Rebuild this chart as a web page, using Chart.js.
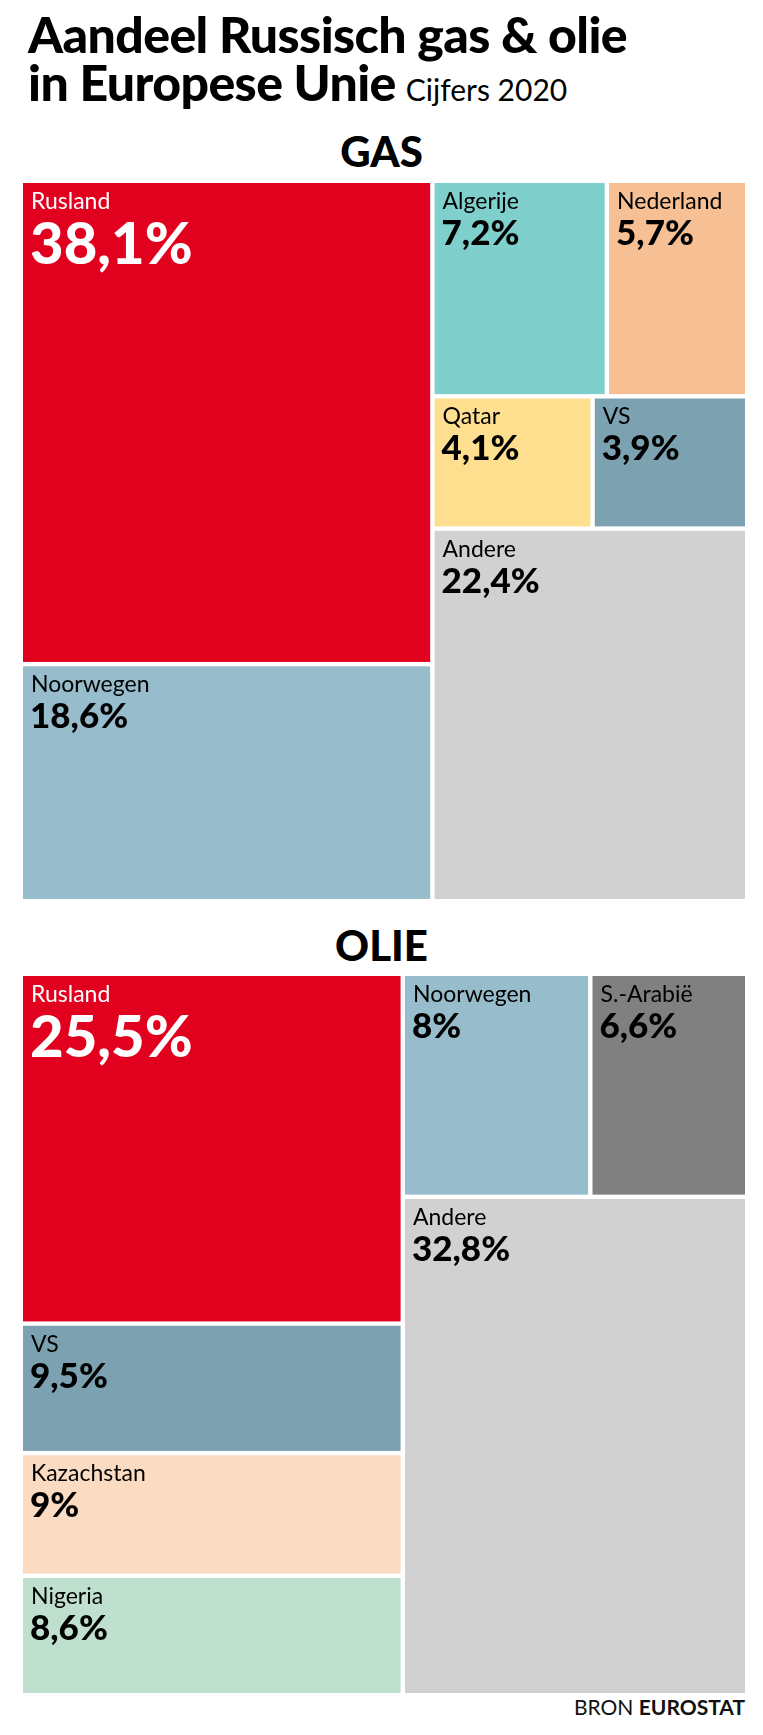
<!DOCTYPE html>
<html>
<head>
<meta charset="utf-8">
<script src="https://cdn.jsdelivr.net/npm/chart.js@4"></script>
<style>
  body { margin: 0; background: #fff; font-family: Lato, "Open Sans", sans-serif; width: 763px; height: 1735px; position: relative; overflow: hidden; }
  .abs { position: absolute; }
  h1 { margin: 0; font-size: 50px; font-weight: 900; line-height: 48px; left: 28px; top: 10px; color: #000; letter-spacing: -0.6px; }
  h1 small { font-size: 30px; font-weight: 400; letter-spacing: 0; margin-left: 10px; }
  .head { width: 763px; text-align: center; font-size: 42px; font-weight: 900; left: 0; }
  .box { left: 0; width: 763px; }
  .src { right: 18px; top: 1694px; font-size: 21px; color: #111; }
</style>
</head>
<body>
<h1 class="abs">Aandeel Russisch gas &amp; olie<br>in Europese Unie<small>Cijfers 2020</small></h1>
<div class="abs head" style="top:126px">GAS</div>
<div class="abs box" style="top:183px;height:716px"><canvas id="gasChart"></canvas></div>
<div class="abs head" style="top:920px">OLIE</div>
<div class="abs box" style="top:976px;height:717px"><canvas id="oilChart"></canvas></div>
<div class="abs src">BRON <b>EUROSTAT</b></div>
<script>
// Data (share in %, 2020)
const gasLabels = ['Rusland', 'Algerije', 'Nederland', 'Qatar', 'VS', 'Andere', 'Noorwegen'];
const gasValues = [38.1, 7.2, 5.7, 4.1, 3.9, 22.4, 18.6];
const gasColors = ['#e2001f', '#7fcfcc', '#f6bf94', '#fddf8f', '#7ca1b1', '#d1d1d1', '#97bccb'];

const oilLabels = ['Rusland', 'Noorwegen', 'S.-Arabië', 'Andere', 'VS', 'Kazachstan', 'Nigeria'];
const oilValues = [25.5, 8, 6.6, 32.8, 9.5, 9, 8.6];
const oilColors = ['#e2001f', '#97bccb', '#808080', '#d1d1d1', '#7ca1b1', '#fbdbc2', '#bfe0ce'];

// Nesting of the treemap (indices into the arrays above)
const gasTree = { dir: 'h', children: [
    { dir: 'v', children: [0, 6] },
    { dir: 'v', children: [{ dir: 'h', children: [1, 2] }, { dir: 'h', children: [3, 4] }, 5] }
]};
const oilTree = { dir: 'h', children: [
    { dir: 'v', children: [0, 4, 5, 6] },
    { dir: 'v', children: [{ dir: 'h', children: [1, 2] }, 3] }
]};

function nodeSum(node, values) {
    if (typeof node === 'number') return values[node];
    return node.children.reduce((s, c) => s + nodeSum(c, values), 0);
}

// slice-and-dice layout in value space (0..100 on both axes)
function layout(node, values, x0, y0, x1, y1, out) {
    if (typeof node === 'number') {
        out.push({ i: node, x0, y0, x1, y1 });
        return out;
    }
    const total = nodeSum(node, values);
    let pos = node.dir === 'h' ? x0 : y0;
    node.children.forEach(c => {
        const f = nodeSum(c, values) / total;
        if (node.dir === 'h') {
            const w = (x1 - x0) * f;
            layout(c, values, pos, y0, pos + w, y1, out);
            pos += w;
        } else {
            const h = (y1 - y0) * f;
            layout(c, values, x0, pos, x1, pos + h, out);
            pos += h;
        }
    });
    return out;
}

const fmt = v => String(v).replace('.', ',') + '%';

function treemapPlugin(labels, values, colors, tree) {
    return {
        id: 'treemap',
        afterDatasetsDraw(chart) {
            const { ctx, scales: { x, y } } = chart;
            const cells = layout(tree, values, 0, 0, 100, 100, []);
            const gap = 2.2;
            cells.forEach(c => {
                const px0 = x.getPixelForValue(c.x0) + (c.x0 > 0 ? gap : 0);
                const px1 = x.getPixelForValue(c.x1) - (c.x1 < 100 ? gap : 0);
                const py0 = y.getPixelForValue(c.y0) + (c.y0 > 0 ? gap : 0);
                const py1 = y.getPixelForValue(c.y1) - (c.y1 < 100 ? gap : 0);
                ctx.save();
                ctx.fillStyle = colors[c.i];
                ctx.fillRect(px0, py0, px1 - px0, py1 - py0);
                const big = c.i === 0;
                ctx.fillStyle = big ? '#fff' : '#000';
                ctx.textBaseline = 'top';
                ctx.font = '400 23px Lato, sans-serif';
                ctx.fillText(labels[c.i], px0 + 8, py0 + 7);
                ctx.font = big ? '900 58px Lato, sans-serif' : '900 35px Lato, sans-serif';
                ctx.fillText(fmt(values[c.i]), px0 + 7, py0 + 33);
                ctx.restore();
            });
        }
    };
}

function makeTreemap(id, labels, values, colors, tree) {
    return new Chart(document.getElementById(id), {
        type: 'scatter',
        data: { datasets: [{ data: [] }] },
        options: {
            responsive: true,
            maintainAspectRatio: false,
            animation: false,
            layout: { padding: { left: 23, right: 18, top: 0, bottom: 0 } },
            scales: {
                x: { type: 'linear', min: 0, max: 100, display: false },
                y: { type: 'linear', min: 0, max: 100, reverse: true, display: false }
            },
            plugins: {
                legend: { display: false },
                tooltip: { enabled: false }
            }
        },
        plugins: [treemapPlugin(labels, values, colors, tree)]
    });
}

makeTreemap('gasChart', gasLabels, gasValues, gasColors, gasTree);
makeTreemap('oilChart', oilLabels, oilValues, oilColors, oilTree);
</script>
</body>
</html>
